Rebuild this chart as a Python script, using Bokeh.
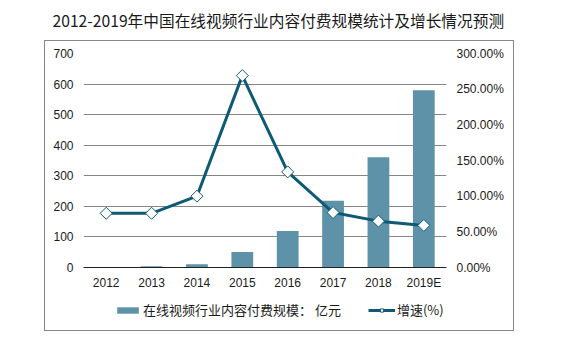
import math
from bokeh.plotting import figure
from bokeh.layouts import column
from bokeh.models import (ColumnDataSource, Range1d, LinearAxis, NumeralTickFormatter,
                          Legend, LegendItem, FixedTicker, InlineStyleSheet, Label)
from bokeh.embed import file_html
from bokeh.resources import INLINE

years = ["2012", "2013", "2014", "2015", "2016", "2017", "2018", "2019E"]
scale = [1, 4, 11, 51, 119, 218, 361, 580]          # 亿元
growth = [0.76, 0.76, 1.00, 2.69, 1.34, 0.77, 0.65, 0.59]  # 增速
left_ticks = [0, 100, 200, 300, 400, 500, 600, 700]
right_ticks = [0, 0.5, 1.0, 1.5, 2.0, 2.5, 3.0]

title_text = "2012-2019年中国在线视频行业内容付费规模统计及增长情况预测"
bar_label = "在线视频行业内容付费规模： 亿元"
line_label = "增速(%)"

BAR = "#5e92a9"
LINE = "#0e5a75"
TXT = "#1a1a1a"
BOX = "#878787"
LATIN = "Liberation Sans"
CJK = "Noto Sans CJK SC"

src = ColumnDataSource(dict(year=years, scale=scale, growth=growth))


def strip(h, **kw):
    f = figure(width=564, height=h, output_backend="svg", toolbar_location=None,
               x_axis_type=None, y_axis_type=None,
               min_border_left=0, min_border_right=0, **kw)
    f.outline_line_color = None
    f.xgrid.grid_line_color = None
    f.ygrid.grid_line_color = None
    return f


# ---- title strip ----
pt = strip(40, x_range=Range1d(0, 1), y_range=Range1d(0, 1), min_border_top=0, min_border_bottom=0)
free = hasattr(pt, "frame_align")
if free:
    pt.frame_align = False
    pt.add_layout(Label(x=52, y=20, x_units="screen", y_units="screen", text=title_text,
                        text_align="left", text_baseline="middle", text_font=CJK,
                        text_font_size="15.7px", text_color=TXT))
else:
    pt.min_border_top = 40
    pt.title.text = title_text
    pt.title.align = "left"
    pt.title.offset = -31
    pt.title.text_font = CJK
    pt.title.text_font_size = "15.7px"
    pt.title.text_font_style = "normal"
    pt.title.text_color = TXT

# ---- main chart ----
p = figure(width=564, height=260, x_range=years, y_range=Range1d(0, 700),
           output_backend="svg", toolbar_location=None,
           min_border_left=83, min_border_right=118, min_border_top=13, min_border_bottom=33)
p.extra_y_ranges = {"pct": Range1d(0, 3)}
p.outline_line_color = None

bars = p.vbar(x="year", top="scale", width=0.48, source=src, fill_color=BAR, line_color=None)
ln = p.line(x="year", y="growth", source=src, y_range_name="pct", line_color=LINE, line_width=3)
sc = p.scatter(x="year", y="growth", source=src, y_range_name="pct", marker="square",
               angle=math.pi / 4, size=8.5, fill_color="white", line_color=LINE, line_width=1)

p.yaxis.ticker = FixedTicker(ticks=left_ticks)
ra = LinearAxis(y_range_name="pct", ticker=FixedTicker(ticks=right_ticks),
                formatter=NumeralTickFormatter(format="0.00%"))
p.add_layout(ra, "right")

for ax in p.yaxis + [ra]:
    ax.axis_line_color = None
    ax.major_label_standoff = 10

p.xaxis.axis_line_color = "#222222"
p.xaxis.major_label_standoff = 8

for ax in p.xaxis + p.yaxis + [ra]:
    ax.major_tick_line_color = None
    ax.minor_tick_line_color = None
    ax.major_tick_out = 0
    ax.major_tick_in = 0
    ax.major_label_text_font = LATIN
    ax.major_label_text_font_size = "12px"
    ax.major_label_text_color = TXT

p.xgrid.grid_line_color = None
p.ygrid.grid_line_color = "#868686"
p.ygrid.grid_line_width = 1

# ---- legend strip (same series, drawn far outside its visible y window) ----
pl = strip(51, x_range=years, y_range=Range1d(5000, 5001), min_border_top=0, min_border_bottom=0)
if free:
    pl.frame_align = False
lb = pl.vbar(x="year", top="scale", width=0.48, source=src, fill_color=BAR, line_color=None)
ll = pl.line(x="year", y="growth", source=src, line_color=LINE, line_width=3)
ls = pl.scatter(x="year", y="growth", source=src, marker="square", angle=math.pi / 4, size=8.5,
                fill_color="white", line_color=LINE, line_width=1)
legend = Legend(items=[LegendItem(label=bar_label, renderers=[lb]),
                       LegendItem(label=line_label, renderers=[ll, ls])],
                orientation="horizontal", location=(114 if free else 31, 32))
legend.glyph_width = 27
legend.glyph_height = 8
legend.label_standoff = 2
legend.spacing = 27
legend.padding = 0
legend.margin = 0
legend.border_line_color = None
legend.background_fill_alpha = 0
legend.label_text_font = CJK
legend.label_text_font_size = "13px"
legend.label_text_color = TXT
pl.add_layout(legend)

# ---- outer grey box spanning chart and legend strips ----
p.stylesheets = [InlineStyleSheet(css=f"""
:host::after {{
  content: ''; position: absolute; left: 44px; top: 0px; width: 470px; height: 262px;
  border: 1.5px solid {BOX}; border-bottom: none; box-sizing: border-box; pointer-events: none;
}}
""")]
pl.stylesheets = [InlineStyleSheet(css=f"""
:host::after {{
  content: ''; position: absolute; left: 44px; top: -1px; width: 470px; height: 32px;
  border: 1.5px solid {BOX}; border-top: none; box-sizing: border-box; pointer-events: none;
}}
""")]

layout = column(pt, p, pl, spacing=0)
open("out.html", "w").write(file_html(layout, INLINE))
